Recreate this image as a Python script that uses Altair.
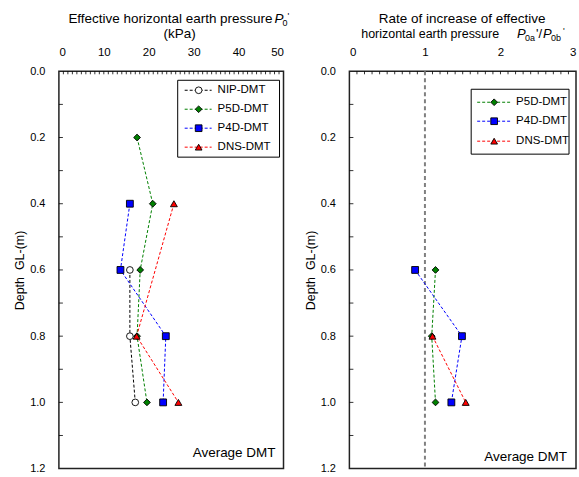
import altair as alt
import pandas as pd

FONT = "Liberation Sans"

series = ["NIP-DMT", "P5D-DMT", "P4D-DMT", "DNS-DMT"]
line_colors = ["#000000", "#008000", "#0000FF", "#FF0000"]
fill_colors = ["#FFFFFF", "#008000", "#0000FF", "#FF0000"]
shapes = ["circle", "diamond", "square", "triangle-up"]

# Left panel: effective horizontal earth pressure P0' (kPa)
nip_depth = [0.6, 0.8, 1.0]
nip_p0 = [15.8, 15.8, 17.0]
p5d_depth = [0.2, 0.4, 0.6, 0.8, 1.0]
p5d_p0 = [17.4, 20.9, 18.1, 17.4, 19.6]
p4d_depth = [0.4, 0.6, 0.8, 1.0]
p4d_p0 = [15.8, 13.7, 23.8, 23.2]
dns_depth = [0.4, 0.8, 1.0]
dns_p0 = [25.6, 17.3, 26.6]

# Right panel: rate of increase P0a'/P0b'
p5d_r_depth = [0.6, 0.8, 1.0]
p5d_ratio = [1.14, 1.09, 1.14]
p4d_r_depth = [0.6, 0.8, 1.0]
p4d_ratio = [0.87, 1.49, 1.35]
dns_r_depth = [0.8, 1.0]
dns_ratio = [1.10, 1.54]

depth_labels = [0.0, 0.2, 0.4, 0.6, 0.8, 1.0, 1.2]
depth_minor = [0.1, 0.2, 0.3, 0.4, 0.5, 0.6, 0.7, 0.8, 0.9, 1.0, 1.1]
left_x_labels = [0, 10, 20, 30, 40, 50]
left_x_minor = list(range(1, 50))
right_x_labels = [0, 1, 2, 3]
right_x_minor = [i / 10 for i in range(1, 30)]

Y_TITLE = "Depth\u00a0 GL-(m)"


def long_df(parts):
    rows = []
    for name, ds, vs in parts:
        for d, v in zip(ds, vs):
            rows.append({"series": name, "depth": d, "value": v})
    return pd.DataFrame(rows)


left_df = long_df([
    ("NIP-DMT", nip_depth, nip_p0),
    ("P5D-DMT", p5d_depth, p5d_p0),
    ("P4D-DMT", p4d_depth, p4d_p0),
    ("DNS-DMT", dns_depth, dns_p0),
])
right_df = long_df([
    ("P5D-DMT", p5d_r_depth, p5d_ratio),
    ("P4D-DMT", p4d_r_depth, p4d_ratio),
    ("DNS-DMT", dns_r_depth, dns_ratio),
])

H = 398
yscale = alt.Scale(domain=[0, 1.2], reverse=True, nice=False, zero=False)
yaxis = alt.Axis(values=depth_labels, format=".1f", title=Y_TITLE,
                 ticks=False, tickSize=0, domain=False, grid=False,
                 labelPadding=14, labelFontSize=11, labelColor="black",
                 titleFontSize=12.5, titleFontWeight="normal",
                 titleColor="black", titlePadding=3)


def txt(text, x, y, size=13, align="left", italic=False):
    return alt.Chart(pd.DataFrame({"t": [text]})).mark_text(
        align=align, baseline="middle", fontSize=size,
        fontStyle="italic" if italic else "normal", color="black",
    ).encode(x=alt.value(x), y=alt.value(y), text="t:N")


def panel(df, xdomain, xlabels, xminor, width, sizes, legend_series, legend_box,
          legend_rows, legend_geom, titles, avg_xy, with_ref_line):
    xscale = alt.Scale(domain=xdomain, nice=False, zero=False)
    xaxis = alt.Axis(orient="top", values=xlabels, format="d", title=None,
                     ticks=False, tickSize=0, domain=False, grid=False,
                     labelPadding=14, labelFontSize=11.5, labelColor="black")
    color_scale = alt.Scale(domain=series, range=line_colors)
    fill_scale = alt.Scale(domain=series, range=fill_colors)
    shape_scale = alt.Scale(domain=series, range=shapes)
    size_scale = alt.Scale(domain=series, range=sizes)

    def X(f):
        return alt.X(f, scale=xscale, axis=xaxis, title=None)

    def Y(f):
        return alt.Y(f, scale=yscale, axis=yaxis, title=Y_TITLE)

    layers = []
    # inward minor ticks
    layers.append(alt.Chart(pd.DataFrame({"value": xminor})).mark_rule(
        color="black", strokeWidth=0.8).encode(
        x=X("value:Q"), y=alt.value(0), y2=alt.value(3)))
    layers.append(alt.Chart(pd.DataFrame({"depth": depth_minor})).mark_rule(
        color="black", strokeWidth=0.8).encode(
        y=Y("depth:Q"), x=alt.value(0), x2=alt.value(4)))
    if with_ref_line:
        layers.append(alt.Chart(pd.DataFrame({"value": [1]})).mark_rule(
            color="#808080", strokeWidth=2, strokeDash=[4, 3]).encode(
            x=X("value:Q")))
    layers.append(alt.Chart(df).mark_line(strokeWidth=1, strokeDash=[3, 2]).encode(
        x=X("value:Q"),
        y=Y("depth:Q"),
        color=alt.Color("series:N", scale=color_scale, legend=None),
        order="depth:Q",
    ))
    layers.append(alt.Chart(df).mark_point(filled=True, opacity=1, stroke="black",
                                           strokeWidth=0.9).encode(
        x=X("value:Q"),
        y=Y("depth:Q"),
        fill=alt.Fill("series:N", scale=fill_scale, legend=None),
        shape=alt.Shape("series:N", scale=shape_scale, legend=None),
        size=alt.Size("series:N", scale=size_scale, legend=None),
    ))
    # legend box
    bx0, bx1, by0, by1 = legend_box
    layers.append(alt.Chart(pd.DataFrame({"a": [0]})).mark_rect(
        fill="white", stroke="black", strokeWidth=1).encode(
        x=alt.value(bx0), x2=alt.value(bx1), y=alt.value(by0), y2=alt.value(by1)))
    lx0, lx1, mx, tx = legend_geom
    for name, ry in zip(legend_series, legend_rows):
        i = series.index(name)
        layers.append(alt.Chart(pd.DataFrame({"a": [0]})).mark_rule(
            color=line_colors[i], strokeWidth=1, strokeDash=[3, 2]).encode(
            x=alt.value(lx0), x2=alt.value(lx1), y=alt.value(ry)))
        layers.append(alt.Chart(pd.DataFrame({"a": [0]})).mark_point(
            filled=True, opacity=1, fill=fill_colors[i], stroke="black",
            strokeWidth=0.9, shape=shapes[i], size=45).encode(
            x=alt.value(mx), y=alt.value(ry)))
        layers.append(txt(name, tx, ry, size=11.5))
    for t in titles:
        layers.append(t)
    layers.append(txt("Average DMT", avg_xy[0], avg_xy[1], size=13.5, align="right"))
    return alt.layer(*layers).properties(width=width, height=H)


left_titles = [
    txt("Effective horizontal earth pressure", 214, -52, size=13.5, align="right"),
    txt("P", 216, -52, size=13.5, italic=True),
    txt("0", 224, -48, size=9),
    txt("'", 229, -55, size=9),
    txt("(kPa)", 121, -37, size=13.5, align="center"),
]
right_titles = [
    txt("Rate of increase of effective", 113, -52, size=13.5, align="center"),
    txt("horizontal earth pressure", 150, -37, size=12.5, align="right"),
    txt("P", 168, -37, size=13, italic=True),
    txt("0a", 176, -33, size=9),
    txt("'/", 187, -37, size=13),
    txt("P", 194, -37, size=13, italic=True),
    txt("0b", 202, -33, size=9),
    txt("'", 214, -40, size=9),
]

left = panel(left_df, [0, 50], left_x_labels, left_x_minor, 225,
             [45, 48, 45, 55], series, (119, 221, 9, 86), [19, 38, 57, 76],
             (126, 153, 140, 159), left_titles, (217, 382), False)
right = panel(right_df, [0, 3], right_x_labels, right_x_minor, 227,
              [50, 50, 110, 100], ["P5D-DMT", "P4D-DMT", "DNS-DMT"],
              (122, 220, 18, 83), [31, 50, 70], (128, 162, 145, 167),
              right_titles, (218, 386), True)

chart = alt.hconcat(left, right, spacing=66, bounds="flush").properties(
    padding={"left": 12, "top": 11, "right": 2, "bottom": 9}
).configure(font=FONT).configure_view(stroke="#222222", strokeWidth=1.5)

chart.save("out.html", embed_options={"renderer": "svg", "actions": False})
